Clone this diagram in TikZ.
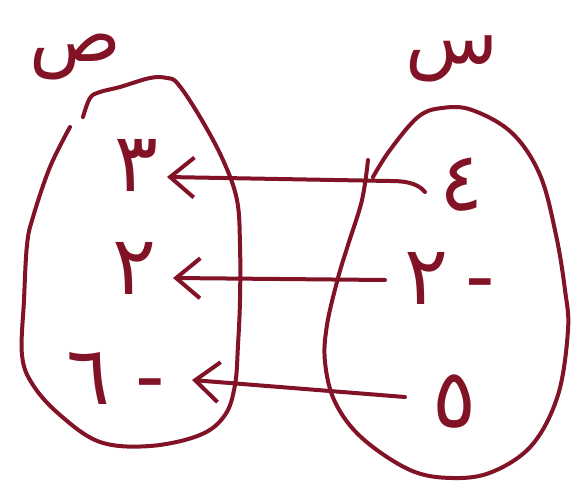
\documentclass[tikz,border=0pt]{standalone}
\usepackage{fontspec}
\usetikzlibrary{arrows.meta,calc}
\TeXXeTstate=1
\newfontfamily\arabicfont[Script=Arabic]{DejaVu Sans}
\definecolor{ink}{RGB}{130,18,38}
\tikzset{
  inkline/.style={draw=ink, line width=4pt, line cap=round, line join=round},
  elem/.style={text=ink, inner sep=0pt, font=\arabicfont\fontsize{82}{84}\selectfont},
  setlabel/.style={text=ink, inner sep=0pt, font=\arabicfont\fontsize{76}{80}\selectfont},
  maparrow/.style={inkline, -{Straight Barb[length=24pt,width=40pt]}},
}
\begin{document}
\begin{tikzpicture}[x=1pt,y=-1pt]
\useasboundingbox (0,0) rectangle (571,489);
\fill[white] (0,0) rectangle (571,489);
% set outlines
\draw[inkline] plot[smooth, tension=0.6] coordinates {(83,117) (90,98) (100,92) (120,87) (150,78) (167,78) (178,84) (200,117) (223,160) (237,200) (240,245) (240,300) (238,345) (235,385) (225,415) (200,435) (150,446) (100,442) (60,415) (33,385) (22,355) (24,300) (27,245) (33,217) (50,167) (70,127)};
\draw[inkline] plot[smooth, tension=0.6] coordinates {(368,160) (362,200) (348,245) (338,278) (327,325) (325,362) (335,402) (362,438) (410,470) (452,478) (492,472) (532,445) (558,395) (568,330) (565,290) (556,235) (540,175) (512,133) (472,110) (442,108) (418,117) (390,150) (373,177)};
% labels
\node[setlabel] (ly) at (75,57) {\beginR ص\endR};
\node[setlabel] (lx) at (452,59) {\beginR س\endR};
% elements
\node[elem] (l1) at (137,165) {٣};
\node[elem] (l2) at (135,268) {٢};
\node[elem] (l3) at (116,378) {\beginR -\hspace{0.3em}٦\endR};
\node[elem] (r1) at (462,185) {٤};
\node[elem] (r2) at (450,278) {\beginR -\hspace{0.2em}٢\endR};
\node[elem] (r3) at (455,402) {٥};
% mapping arrows
\draw[maparrow] ($(r1)+(-37,7)$) .. controls ($(r1)+(-45,-3)$) and ($(r1)+(-60,-4)$) .. ($(r1)+(-72,-4)$) -- ($(l1)+(30,12)$);
\draw[maparrow] ($(r2)+(-65,2)$) -- ($(l2)+(38,10)$);
\draw[maparrow] ($(r3)+(-50,-5)$) -- ($(l3)+(76,2)$);
\end{tikzpicture}
\end{document}
